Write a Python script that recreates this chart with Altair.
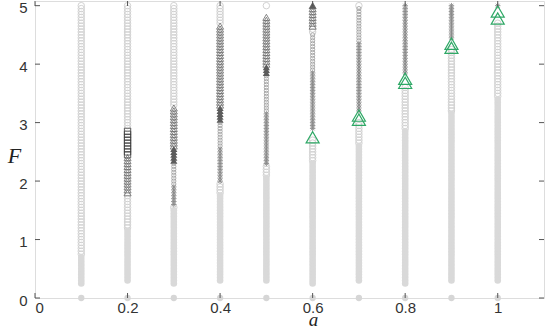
import altair as alt
import pandas as pd
import numpy as np

# ---- data ----
columns_a = [0.1, 0.2, 0.3, 0.4, 0.5, 0.6, 0.7, 0.8, 0.9, 1.0]
F_STEP = 0.05  # spacing of the F grid in the sweep

# segments: (a, marker class, F low, F high)
seg_a = [0.1, 0.1,
         0.2, 0.2, 0.2, 0.2, 0.2,
         0.3, 0.3, 0.3, 0.3, 0.3, 0.3, 0.3,
         0.4, 0.4, 0.4, 0.4, 0.4, 0.4, 0.4,
         0.5, 0.5, 0.5, 0.5, 0.5, 0.5, 0.5,
         0.6, 0.6, 0.6, 0.6, 0.6, 0.6, 0.6,
         0.7, 0.7, 0.7, 0.7, 0.7,
         0.8, 0.8, 0.8,
         0.9, 0.9, 0.9,
         1.0, 1.0, 1.0]
seg_cls = ["open", "filled",
           "open", "square", "tri_open", "open", "filled",
           "open", "tri_open", "tri_filled", "small", "star", "open", "filled",
           "open", "tri_open", "tri_filled", "small", "star", "open", "filled",
           "open", "tri_open", "tri_filled", "small", "star", "open", "filled",
           "tri_open", "open", "small", "star", "open", "filled", "tri_filled",
           "open", "small", "star", "open", "filled",
           "star", "open", "filled",
           "star", "open", "filled",
           "star", "open", "filled"]
seg_lo = [0.75, 0.25,
          2.90, 2.45, 1.80, 1.20, 0.30,
          3.30, 2.60, 2.35, 1.95, 1.60, 1.55, 0.25,
          4.70, 3.30, 3.05, 2.60, 2.00, 1.80, 0.30,
          5.00, 4.00, 3.85, 3.20, 2.30, 2.10, 0.30,
          4.65, 4.55, 3.90, 2.90, 2.35, 0.25, 5.00,
          5.00, 4.40, 3.20, 2.65, 0.30,
          3.85, 2.90, 0.25,
          4.45, 3.20, 0.30,
          5.00, 3.45, 0.30]
seg_hi = [5.00, 0.70,
          5.00, 2.85, 2.40, 1.75, 1.15,
          5.00, 3.25, 2.55, 2.30, 1.90, 1.55, 1.50,
          5.00, 4.65, 3.25, 3.00, 2.55, 1.95, 1.75,
          5.00, 4.80, 3.95, 3.80, 3.15, 2.25, 2.05,
          5.00, 4.60, 4.50, 3.85, 2.70, 2.30, 5.00,
          5.00, 4.95, 4.35, 3.00, 2.60,
          5.00, 3.60, 2.85,
          5.00, 4.25, 3.15,
          5.00, 4.70, 3.40]

green_a = [0.6, 0.7, 0.7, 0.8, 0.8, 0.9, 0.9, 1.0, 1.0]
green_F = [2.75, 3.12, 3.05, 3.75, 3.68, 4.35, 4.28, 4.90, 4.78]

x_ticks = [0, 0.2, 0.4, 0.6, 0.8, 1.0]
y_ticks = [0, 1, 2, 3, 4, 5]

X_DOM = [0, 1.1]
Y_DOM = [0, 5.08]
W, H = 509, 297

# ---- build tables ----
rows = []
for a, c, lo, hi in zip(seg_a, seg_cls, seg_lo, seg_hi):
    n = int(round((hi - lo) / F_STEP))
    for k in range(n + 1):
        rows.append({"a": a, "F": round(lo + k * F_STEP, 3), "cls": c})
for a in columns_a:
    rows.append({"a": a, "F": 0.0, "cls": "zero"})
df = pd.DataFrame(rows)
gdf = pd.DataFrame({"a": green_a, "F": green_F})

xs = alt.Scale(domain=X_DOM, nice=False, zero=False)
ys = alt.Scale(domain=Y_DOM, nice=False, zero=False)

x_axis = alt.Axis(values=x_ticks, format="~g", tickSize=0, domain=False, grid=False,
                  labelFont="Liberation Sans", labelFontSize=15, labelColor="#333",
                  labelPadding=2, title="a", titleFont="Liberation Serif",
                  titleFontStyle="italic", titleFontWeight="normal", titleFontSize=19,
                  titleColor="#222", titleX=278, titleY=31, titleAlign="center",
                  titleBaseline="bottom")
y_axis = alt.Axis(values=y_ticks, format="d", tickSize=0, domain=False, grid=False,
                  labelFont="Liberation Sans", labelFontSize=15, labelColor="#333",
                  labelPadding=8, labelOffset=2, title="F", titleFont="Liberation Serif",
                  titleFontStyle="italic", titleFontWeight="normal", titleFontSize=22,
                  titleColor="#222", titleAngle=0, titleX=-21, titleY=154,
                  titleAlign="center", titleBaseline="middle")

base = alt.Chart(df)


def layer(cls, mark):
    return base.transform_filter(alt.datum.cls == cls).mark_point(**mark).encode(
        x=alt.X("a:Q", scale=xs, axis=x_axis),
        y=alt.Y("F:Q", scale=ys, axis=y_axis),
    )


STAR = "M-1,0L1,0M0,-1L0,1M-0.7,-0.7L0.7,0.7M-0.7,0.7L0.7,-0.7"

layers = [
    layer("open", dict(shape="circle", filled=False, size=42, stroke="#d2d2d2", strokeWidth=1, opacity=1)),
    layer("filled", dict(shape="circle", filled=True, size=44, fill="#d9d9d9", opacity=1, strokeWidth=0)),
    layer("small", dict(shape="circle", filled=False, size=18, stroke="#9a9a9a", strokeWidth=0.8, opacity=1)),
    layer("star", dict(shape=STAR, filled=False, size=30, stroke="#8a8a8a", strokeWidth=0.9, opacity=1)),
    layer("tri_open", dict(shape="triangle-up", filled=False, size=50, stroke="#6a6a6a", strokeWidth=0.8, opacity=1)),
    layer("tri_filled", dict(shape="triangle-up", filled=True, size=50, fill="#5c5c5c", strokeWidth=0, opacity=1)),
    layer("square", dict(shape="square", filled=False, size=40, stroke="#3c3c3c", strokeWidth=0.8, opacity=1)),
    layer("zero", dict(shape="circle", filled=True, size=40, fill="#d6d6d6", strokeWidth=0, opacity=1)),
]

green = alt.Chart(gdf).mark_point(shape="triangle-up", filled=False, size=170,
                                   stroke="#2fa866", strokeWidth=1.2, opacity=1).encode(
    x=alt.X("a:Q", scale=xs), y=alt.Y("F:Q", scale=ys))

# inward ticks on all four sides
TL_PX = 5
ty = TL_PX / H * (Y_DOM[1] - Y_DOM[0])
tx = TL_PX / W * (X_DOM[1] - X_DOM[0])
xt = pd.DataFrame({"a": x_ticks})
yt = pd.DataFrame({"F": y_ticks})
tick_style = dict(color="#555", strokeWidth=1)
ticks = [
    alt.Chart(xt).transform_calculate(y0=f"{Y_DOM[0]}", y1=f"{Y_DOM[0] + ty}").mark_rule(**tick_style).encode(
        x=alt.X("a:Q", scale=xs), y=alt.Y("y0:Q", scale=ys), y2="y1:Q"),
    alt.Chart(xt).transform_calculate(y0=f"{Y_DOM[1] - ty}", y1=f"{Y_DOM[1]}").mark_rule(**tick_style).encode(
        x=alt.X("a:Q", scale=xs), y=alt.Y("y0:Q", scale=ys), y2="y1:Q"),
    alt.Chart(yt).transform_calculate(x0=f"{X_DOM[0]}", x1=f"{X_DOM[0] + tx}").mark_rule(**tick_style).encode(
        y=alt.Y("F:Q", scale=ys), x=alt.X("x0:Q", scale=xs), x2="x1:Q"),
    alt.Chart(yt).transform_calculate(x0=f"{X_DOM[1] - tx}", x1=f"{X_DOM[1]}").mark_rule(**tick_style).encode(
        y=alt.Y("F:Q", scale=ys), x=alt.X("x0:Q", scale=xs), x2="x1:Q"),
]

chart = alt.layer(*layers, green, *ticks).properties(
    width=W, height=H,
    autosize=alt.AutoSizeParams(type="none"),
    padding={"left": 35, "top": 1, "right": 6, "bottom": 31},
).configure_view(stroke="#555", strokeWidth=1).configure(background="white")

chart.save("out.html", embed_options={"renderer": "svg", "actions": False})
